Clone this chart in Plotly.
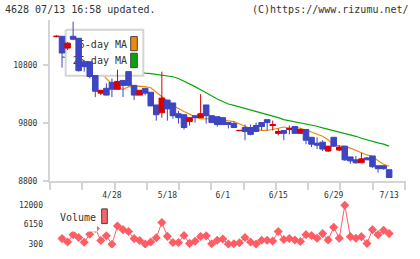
import plotly.graph_objects as go

W, H = 420, 259

# ---------------- data ----------------
tick_idx = [10, 20, 30, 40, 50, 60]
tick_labels = ["4/28", "5/18", "6/1", "6/15", "6/29", "7/13"]

opens = [11290, 11297, 11093, 11297, 11263, 10856, 10856, 10619, 10314, 10398,
         10500, 10381, 10534, 10686, 10449, 10280, 10398, 10330, 10110, 9975,
         10195, 10144, 9958, 9941, 9822, 9924, 9890, 10110, 9924, 9907,
         9890, 9805, 9788, 9665, 9720, 9720, 9754, 9805, 9856, 9754,
         9619, 9669, 9686, 9737, 9619, 9686, 9551, 9449, 9466, 9313,
         9551, 9330, 9398, 9212, 9161, 9110, 9195, 9229, 9059, 9059,
         8991]
highs = [11314, 11300, 11195, 11551, 11263, 10890, 10856, 10619, 10364, 10483,
         10568, 10720, 10534, 10686, 10449, 10364, 10398, 10330, 10110, 10686,
         10195, 10144, 10008, 9941, 9890, 9924, 10297, 10110, 9924, 9907,
         9890, 9805, 9822, 9670, 9771, 9771, 9805, 9805, 9856, 9839,
         9703, 9669, 9754, 9737, 9703, 9686, 9551, 9551, 9500, 9398,
         9551, 9415, 9398, 9212, 9229, 9280, 9212, 9229, 9059, 9059,
         8991]
lows = [11280, 10754, 11059, 11229, 10686, 10686, 10568, 10246, 10280, 10280,
        10246, 10381, 10246, 10432, 10195, 10280, 10280, 10093, 9839, 9890,
        9839, 9873, 9788, 9686, 9754, 9805, 9890, 9788, 9805, 9737,
        9771, 9703, 9720, 9665, 9500, 9585, 9652, 9669, 9669, 9669,
        9585, 9500, 9602, 9619, 9619, 9432, 9381, 9347, 9313, 9297,
        9381, 9313, 9144, 9093, 9093, 9110, 9161, 9025, 8941, 8991,
        8856]
closes = [11297, 11008, 11178, 11246, 10703, 10771, 10602, 10347, 10364, 10280,
          10381, 10517, 10449, 10449, 10280, 10364, 10314, 10093, 9941, 10229,
          10042, 9924, 9890, 9720, 9890, 9890, 9958, 9924, 9805, 9771,
          9771, 9771, 9720, 9670, 9652, 9602, 9652, 9737, 9805, 9771,
          9652, 9619, 9703, 9619, 9686, 9500, 9432, 9415, 9347, 9398,
          9398, 9381, 9161, 9144, 9110, 9178, 9161, 9042, 9008, 9008,
          8856]

ma5 = [None, 11127, 11127, 11144, 11042, 10958, 10873, 10771, 10669, 10559,
       10466, 10398, 10381, 10424, 10432, 10437, 10427, 10407, 10330, 10246,
       10178, 10102, 10042, 9997, 9952, 9902, 9873, 9873, 9868, 9856,
       9851, 9834, 9822, 9788, 9741, 9703, 9686, 9669, 9669, 9695,
       9708, 9729, 9712, 9720, 9707, 9678, 9641, 9614, 9568, 9503,
       9427, 9402, 9395, 9364, 9322, 9280, 9246, 9220, 9144, 9085,
       9051]
ma25 = [None, 10941, 10924, 10907, 10890, 10873, 10856, 10839, 10822, 10805,
        10788, 10771, 10754, 10729, 10703, 10678, 10661, 10653, 10641, 10630,
        10614, 10597, 10568, 10525, 10475, 10427, 10373, 10317, 10263, 10212,
        10169, 10127, 10102, 10076, 10051, 10017, 9997, 9975, 9949, 9915,
        9890, 9856, 9839, 9822, 9805, 9788, 9763, 9742, 9715, 9691,
        9669, 9644, 9619, 9593, 9568, 9534, 9505, 9478, 9454, 9432,
        9398]

volume = [None, 1970, 970, 3140, 2290, 890, 3280, 5000, 1410, 2790,
          300, 5710, 4630, 4100, 1970, 1380, 360, 970, 2200, 6790,
          2640, 800, 800, 2870, 530, 1180, 2580, 2790, 450, 1470,
          1850, 360, 450, 740, 2290, 970, 360, 1470, 1470, 1270,
          4100, 1700, 2000, 1560, 1090, 3140, 2870, 2060, 3460, 1530,
          5360, 2060, 11910, 2550, 2060, 2550, 510, 4630, 3140, 4450,
          3460]

price_ticks = [8800, 9800, 10800]
price_tick_text = ["8800", "9800", "10800"]
vol_ticks = [300, 6150, 12000]
vol_tick_text = ["300", "6150", "12000"]

idx = list(range(len(closes)))

# ---------------- styling ----------------
RED = "#d60000"
BLUE = "#3d45c2"
ORANGE = "#f08a0c"
GREEN = "#0aa50a"
VOLC = "#ff5c63"
AXC = "#d4d4d4"
TXT = "#333333"
MONO = "DejaVu Sans Mono"

# pixel geometry of the plotting areas
PX_L, PX_R = 50, 405.5
MAIN_TOP, MAIN_BOT = 20, 184.3
VOL_TOP, VOL_BOT = 205, 253
XR = [-1.17, 62.95]
YR = [8800, 11585]
VR = [-870, 13170]


def fx(px):
    return px / W


def fy(py):
    return 1 - py / H


fig = go.Figure()

# moving averages (base layer)
fig.add_trace(go.Scatter(x=idx, y=ma25, mode="lines", line=dict(color=GREEN, width=1.2),
                         xaxis="x", yaxis="y", hoverinfo="skip", connectgaps=False))
fig.add_trace(go.Scatter(x=idx, y=ma5, mode="lines", line=dict(color=ORANGE, width=1.2),
                         xaxis="x", yaxis="y", hoverinfo="skip", connectgaps=False))

# legend box (middle layer, pixel units on overlay axes)
bx0, bx1, by0, by1 = 65.7, 143.3, 30.3, 77.3
fig.add_trace(go.Scatter(x=[bx0, bx1, bx1, bx0, bx0], y=[by0, by0, by1, by1, by0],
                         mode="lines", fill="toself", fillcolor="white",
                         line=dict(color=AXC, width=2), xaxis="x3", yaxis="y3",
                         hoverinfo="skip"))
fig.add_trace(go.Scatter(x=[127, 127], y=[46.5, 62.5], mode="text",
                         text=["5-day MA", "25-day MA"], textposition="middle left",
                         textfont=dict(family=MONO, size=10, color=TXT),
                         xaxis="x3", yaxis="y3", hoverinfo="skip"))
for (sy0, sy1, col) in [(37.3, 51.7, ORANGE), (54.3, 69.0, GREEN)]:
    fig.add_trace(go.Scatter(x=[130.7, 137.3, 137.3, 130.7, 130.7],
                             y=[sy0, sy0, sy1, sy1, sy0], mode="lines", fill="toself",
                             fillcolor=col, line=dict(color="#444444", width=1),
                             xaxis="x3", yaxis="y3", hoverinfo="skip"))

# candlesticks (top layer)
fig.add_trace(go.Candlestick(x=idx, open=opens, high=highs, low=lows, close=closes,
                             increasing=dict(line=dict(color=RED, width=1), fillcolor=RED),
                             decreasing=dict(line=dict(color=BLUE, width=1), fillcolor=BLUE),
                             whiskerwidth=0, xaxis="x4", yaxis="y4", hoverinfo="skip"))

# volume
fig.add_trace(go.Scatter(x=idx, y=volume, mode="lines+markers",
                         line=dict(color=VOLC, width=1),
                         marker=dict(symbol="diamond", size=7, color=VOLC),
                         xaxis="x2", yaxis="y2", hoverinfo="skip", connectgaps=False))

xdom = [fx(PX_L), fx(PX_R)]
nseg = 11
fig.update_layout(
    width=W, height=H, margin=dict(l=0, r=0, t=0, b=0),
    paper_bgcolor="white", plot_bgcolor="white", showlegend=False,
    boxgap=0.0, boxgroupgap=0.0,
    xaxis=dict(domain=xdom, range=XR, anchor="y", showline=True, linecolor=AXC, linewidth=2,
               showgrid=False, zeroline=False, tickmode="array", tickvals=tick_idx,
               ticktext=tick_labels, ticks="", ticklabelstandoff=6,
               tickfont=dict(family=MONO, size=8, color=TXT),
               minor=dict(ticks="outside", ticklen=7, tickwidth=2, tickcolor=AXC,
                          tick0=XR[0], dtick=(XR[1] - XR[0]) / nseg * (PX_R - PX_L - 0.5) / (PX_R - PX_L),
                          showgrid=False),
               rangeslider=dict(visible=False), fixedrange=True),
    yaxis=dict(domain=[fy(MAIN_BOT), fy(MAIN_TOP)], range=YR, anchor="x", showline=True,
               linecolor=AXC, linewidth=2, showgrid=False, zeroline=False,
               tickmode="array", tickvals=price_ticks, ticktext=price_tick_text,
               ticks="outside", ticklen=5,
               tickwidth=2, tickcolor=AXC, ticklabelstandoff=4,
               tickfont=dict(family=MONO, size=8, color=TXT), fixedrange=True),
    xaxis2=dict(domain=xdom, matches="x", anchor="y2", visible=False,
                rangeslider=dict(visible=False)),
    yaxis2=dict(domain=[fy(VOL_BOT), fy(VOL_TOP)], range=VR, anchor="x2", showline=False,
                showgrid=False, zeroline=False, tickmode="array", tickvals=vol_ticks,
                ticktext=vol_tick_text,
                ticks="", ticklabelstandoff=6, tickfont=dict(family=MONO, size=8, color=TXT)),
    xaxis3=dict(overlaying="x", range=[PX_L, PX_R], visible=False, anchor="y3"),
    yaxis3=dict(overlaying="y", range=[MAIN_BOT, MAIN_TOP], visible=False, anchor="x3"),
    xaxis4=dict(overlaying="x", matches="x", visible=False, anchor="y4",
                rangeslider=dict(visible=False)),
    yaxis4=dict(overlaying="y", matches="y", visible=False, anchor="x4"),
)

# header texts
fig.add_annotation(x=fx(3), y=fy(10), xref="paper", yref="paper", xanchor="left",
                   yanchor="middle", showarrow=False, text="4628 07/13 16:58 updated.",
                   font=dict(family=MONO, size=10, color=TXT))
fig.add_annotation(x=fx(411), y=fy(10), xref="paper", yref="paper", xanchor="right",
                   yanchor="middle", showarrow=False, text="(C)https://www.rizumu.net/",
                   font=dict(family=MONO, size=10, color=TXT))

# volume legend (white background hides the line beneath)
fig.add_shape(type="rect", xref="paper", yref="paper", x0=fx(54), x1=fx(97),
              y0=fy(236), y1=fy(207), fillcolor="white", line=dict(width=0), layer="above")
fig.add_shape(type="rect", xref="paper", yref="paper", x0=fx(101.7), x1=fx(107.3),
              y0=fy(228), y1=fy(213), fillcolor="#ff6464",
              line=dict(color="#444444", width=1), layer="above")
fig.add_annotation(x=fx(58), y=fy(221.5), xref="paper", yref="paper", xanchor="left",
                   yanchor="middle", showarrow=False, text="Volume",
                   font=dict(family=MONO, size=10, color=TXT))

fig.write_html("out.html")
